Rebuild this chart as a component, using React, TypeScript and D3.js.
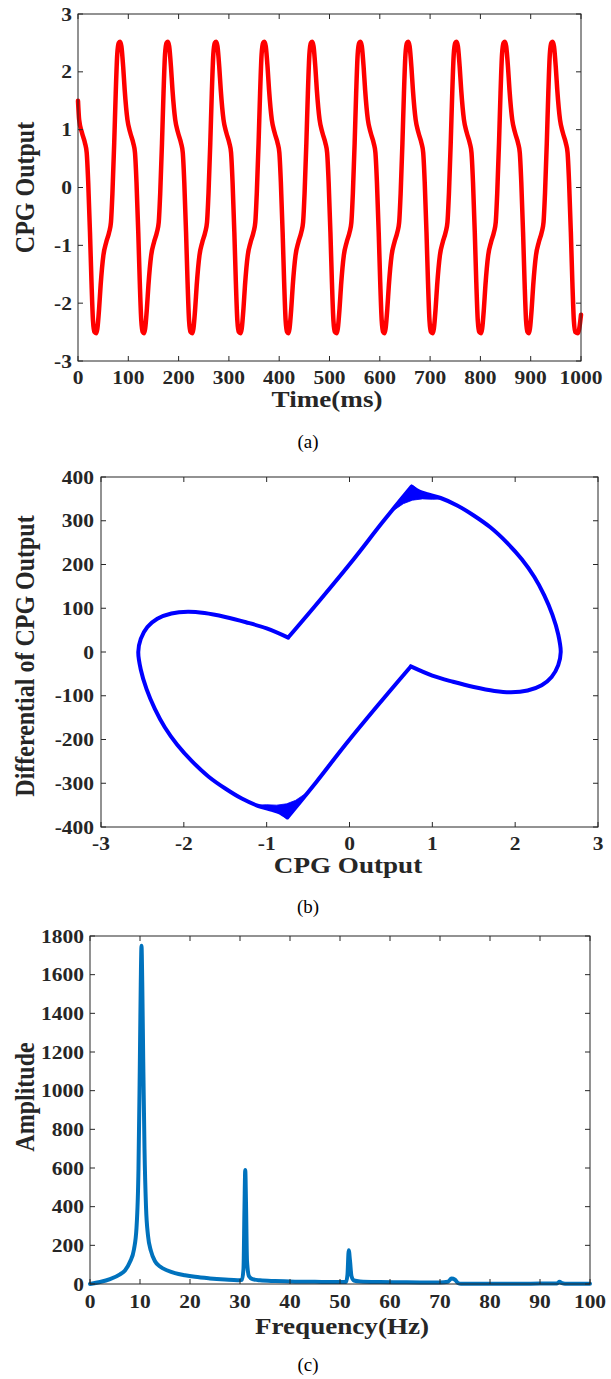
import React from 'react';
import * as d3 from 'd3';

// ---------- Panel (a): CPG output vs time ----------
const timeTicks = [0, 100, 200, 300, 400, 500, 600, 700, 800, 900, 1000];
const cpgTicks = [-3, -2, -1, 0, 1, 2, 3];
// times (ms) of the troughs (first one is before t=0)
const troughTimes = [-60, 36, 131, 227, 323, 418, 514, 609, 705, 801, 896, 994];
// one cycle: [ms after trough, output]
const cycleShape: [number, number][] = [
  [0, -2.52], [2.5, -2.44], [6, -2.09], [9, -1.69], [14.5, -1.17], [20, -0.95],
  [26, -0.77], [29.5, -0.6], [32.5, -0.09], [36, 0.77], [39, 1.63], [42, 2.3],
  [45, 2.5], [47.8, 2.52], [50.3, 2.44], [53.8, 2.09], [56.8, 1.69], [62.3, 1.17],
  [67.8, 0.95], [73.8, 0.77], [77.3, 0.6], [80.3, 0.09], [83.8, -0.77],
  [86.8, -1.63], [89.8, -2.3], [92.8, -2.5],
];
const cpgStart: [number, number] = [0, 1.5];
const cpgEnd: [number, number] = [1000, -2.2];

// ---------- Panel (b): phase portrait ----------
const phaseXTicks = [-3, -2, -1, 0, 1, 2, 3];
const phaseYTicks = [-400, -300, -200, -100, 0, 100, 200, 300, 400];
// right lobe: top cusp -> lower kink
const lobeRight: [number, number][] = [
  [0.75, 378], [0.85, 366], [0.95, 360], [1.1, 352], [1.3, 335], [1.5, 312],
  [1.7, 285], [1.9, 250], [2.08, 212], [2.23, 172], [2.35, 130], [2.45, 85],
  [2.52, 40], [2.55, 0], [2.52, -30], [2.44, -57], [2.32, -76], [2.15, -88],
  [1.95, -92], [1.75, -89], [1.5, -80], [1.25, -68], [1.0, -54], [0.74, -33],
];
// lower diagonal: lower kink -> bottom cusp
const diagLower: [number, number][] = [
  [0.74, -33], [0.35, -120], [-0.05, -212], [-0.4, -297], [-0.75, -378],
];
// left lobe: bottom cusp -> upper kink
const lobeLeft: [number, number][] = [
  [-0.75, -378], [-0.85, -366], [-0.95, -360], [-1.1, -352], [-1.3, -335], [-1.5, -312],
  [-1.7, -285], [-1.9, -250], [-2.08, -212], [-2.23, -172], [-2.35, -130], [-2.45, -85],
  [-2.52, -40], [-2.55, 0], [-2.52, 30], [-2.44, 57], [-2.32, 76], [-2.15, 88],
  [-1.95, 92], [-1.75, 89], [-1.5, 80], [-1.25, 68], [-1.0, 54], [-0.74, 33],
];
// upper diagonal: upper kink -> top cusp
const diagUpper: [number, number][] = [
  [-0.74, 33], [-0.35, 120], [0.05, 212], [0.4, 297], [0.75, 378],
];
// dense bundle of trajectories at the two cusps
const cuspTop: [number, number][] = [
  [0.76, 381], [0.85, 367], [0.95, 360], [1.05, 355], [1.14, 350],
  [1.0, 349], [0.88, 350], [0.76, 347], [0.65, 339], [0.55, 326], [0.49, 318],
  [0.62, 348],
];
const cuspBottom: [number, number][] = [
  [-0.76, -381], [-0.85, -367], [-0.95, -360], [-1.05, -355], [-1.14, -350],
  [-1.0, -349], [-0.88, -350], [-0.76, -347], [-0.65, -339], [-0.55, -326], [-0.49, -318],
  [-0.62, -348],
];

// ---------- Panel (c): spectrum ----------
const freqTicks = [0, 10, 20, 30, 40, 50, 60, 70, 80, 90, 100];
const ampTicks = [0, 200, 400, 600, 800, 1000, 1200, 1400, 1600, 1800];
const freqHz = [
  0, 2, 4, 6, 7, 8, 8.8, 9.3, 9.7, 9.95, 10.15, 10.3, 10.45, 10.65, 10.9, 11.2, 11.6,
  12.2, 13, 14, 15.5, 17, 19, 21, 24, 27, 29.5, 30.4, 30.7, 30.9, 31.05, 31.2, 31.4,
  31.8, 32.5, 34, 37, 41, 45, 49, 51.2, 51.5, 51.75, 52.0, 52.3, 52.8, 54, 58, 62,
  66, 70, 71.6, 72.3, 73, 73.6, 74.2, 78, 85, 90, 93.4, 93.9, 94.4, 95, 100,
];
const amplitude = [
  0, 10, 25, 50, 70, 115, 180, 290, 600, 1100, 1550, 1750, 1560, 1150, 700, 400, 250,
  170, 118, 90, 70, 56, 45, 37, 29, 23, 19, 22, 80, 400, 590, 420, 120,
  40, 25, 19, 15, 12, 11, 10, 10, 50, 175, 120, 40, 18, 13, 10, 9,
  8, 8, 12, 28, 22, 5, 1, 1, 1, 2, 3, 12, 4, 1, 1,
];

const FONT = "'Liberation Serif', 'Times New Roman', serif";
const AXIS_COLOR = '#262626';
const STRETCH = 1.13; // the reference glyphs are a little wider than tall

type Frame = { left: number; right: number; top: number; bottom: number };

function SText({
  x, y, text, size, anchor, bold, rotate, dy, stretch,
}: {
  x: number; y: number; text: string; size: number; anchor: string;
  bold?: boolean; rotate?: boolean; dy?: string; stretch?: number;
}) {
  const s = stretch ?? STRETCH;
  const tr = `translate(${x} ${y}) scale(${s} 1)${rotate ? ' rotate(-90)' : ''}`;
  return (
    <text transform={tr} dy={dy} textAnchor={anchor} fontFamily={FONT}
      fontWeight={bold ? 'bold' : 'normal'} fontSize={size} fill={bold ? AXIS_COLOR : '#000'}>
      {text}
    </text>
  );
}

function Box({
  frame, x, y, xTicks, yTicks, yLabelEnd, xLabelBase,
}: {
  frame: Frame;
  x: d3.ScaleLinear<number, number>;
  y: d3.ScaleLinear<number, number>;
  xTicks: number[];
  yTicks: number[];
  yLabelEnd: number;
  xLabelBase: number;
}) {
  const tl = 5;
  return (
    <g>
      <rect x={frame.left} y={frame.top} width={frame.right - frame.left}
        height={frame.bottom - frame.top} fill="none" stroke={AXIS_COLOR} strokeWidth={1} />
      {xTicks.map((t) => (
        <g key={'x' + t}>
          <line x1={x(t)} x2={x(t)} y1={frame.bottom} y2={frame.bottom - tl} stroke={AXIS_COLOR} />
          <line x1={x(t)} x2={x(t)} y1={frame.top} y2={frame.top + tl} stroke={AXIS_COLOR} />
          <SText x={x(t)} y={xLabelBase} text={String(t)} size={19} anchor="middle" bold />
        </g>
      ))}
      {yTicks.map((t) => (
        <g key={'y' + t}>
          <line x1={frame.left} x2={frame.left + tl} y1={y(t)} y2={y(t)} stroke={AXIS_COLOR} />
          <line x1={frame.right} x2={frame.right - tl} y1={y(t)} y2={y(t)} stroke={AXIS_COLOR} />
          <SText x={yLabelEnd} y={y(t)} dy="0.35em" text={String(t)} size={19} anchor="end" bold />
        </g>
      ))}
    </g>
  );
}

export default function App() {
  // Panel (a)
  const fa: Frame = { left: 78, right: 581, top: 14, bottom: 361 };
  const xa = d3.scaleLinear().domain([0, 1000]).range([fa.left, fa.right]);
  const ya = d3.scaleLinear().domain([-3, 3]).range([fa.bottom, fa.top]);
  const series: [number, number][] = [cpgStart];
  troughTimes.forEach((T) => {
    cycleShape.forEach(([dt, v]) => {
      const t = T + dt;
      if (t > 1 && t < 997) series.push([t, v]);
    });
  });
  series.push(cpgEnd);
  series.sort((p, q) => p[0] - q[0]);
  const lineA = d3.line<[number, number]>().x((d) => xa(d[0])).y((d) => ya(d[1]))
    .curve(d3.curveMonotoneX);

  // Panel (b)
  const fb: Frame = { left: 101, right: 598, top: 477, bottom: 827 };
  const xb = d3.scaleLinear().domain([-3, 3]).range([fb.left, fb.right]);
  const yb = d3.scaleLinear().domain([-400, 400]).range([fb.bottom, fb.top]);
  const segB = d3.line<[number, number]>().x((d) => xb(d[0])).y((d) => yb(d[1]))
    .curve(d3.curveCatmullRom.alpha(0.5));
  const fanB = d3.line<[number, number]>().x((d) => xb(d[0])).y((d) => yb(d[1]))
    .curve(d3.curveLinearClosed);
  const loopD = [lobeRight, diagLower, lobeLeft, diagUpper].map((s) => segB(s) || '').join(' ');

  // Panel (c)
  const fc: Frame = { left: 90, right: 590, top: 936, bottom: 1284 };
  const xc = d3.scaleLinear().domain([0, 100]).range([fc.left, fc.right]);
  const yc = d3.scaleLinear().domain([0, 1800]).range([fc.bottom, fc.top]);
  const specPts: [number, number][] = freqHz.map((f, i) => [f, amplitude[i]]);
  const lineC = d3.line<[number, number]>().x((d) => xc(d[0])).y((d) => yc(d[1]))
    .curve(d3.curveMonotoneX);

  return (
    <svg width={611} height={1379} style={{ position: 'absolute', left: 0, top: 0, background: '#fff' }}>
      <rect x={0} y={0} width={611} height={1379} fill="#fff" />

      {/* (a) */}
      <path d={lineA(series) || ''} fill="none" stroke="#ff0000" strokeWidth={4.5}
        strokeLinejoin="round" strokeLinecap="round" />
      <Box frame={fa} x={xa} y={ya} xTicks={timeTicks} yTicks={cpgTicks} yLabelEnd={72} xLabelBase={384} />
      <SText x={327} y={407} text="Time(ms)" size={24} anchor="middle" bold />
      <SText x={34} y={(fa.top + fa.bottom) / 2} text="CPG Output" size={24} anchor="middle" bold rotate />
      <SText x={308} y={448} text="(a)" size={18} anchor="middle" stretch={1.05} />

      {/* (b) */}
      <path d={fanB(cuspTop) || ''} fill="#0000ff" stroke="#0000ff" strokeWidth={0.8} strokeLinejoin="round" />
      <path d={fanB(cuspBottom) || ''} fill="#0000ff" stroke="#0000ff" strokeWidth={0.8} strokeLinejoin="round" />
      <path d={loopD} fill="none" stroke="#0000ff" strokeWidth={4}
        strokeLinejoin="miter" strokeLinecap="round" />
      <Box frame={fb} x={xb} y={yb} xTicks={phaseXTicks} yTicks={phaseYTicks} yLabelEnd={94} xLabelBase={850} />
      <SText x={348} y={873} text="CPG Output" size={24} anchor="middle" bold />
      <SText x={34} y={656} text="Differential of CPG Output" size={24} anchor="middle" bold rotate />
      <SText x={308} y={913} text="(b)" size={18} anchor="middle" stretch={1.05} />

      {/* (c) */}
      <path d={lineC(specPts) || ''} fill="none" stroke="#0072BD" strokeWidth={4}
        strokeLinejoin="round" strokeLinecap="round" />
      <Box frame={fc} x={xc} y={yc} xTicks={freqTicks} yTicks={ampTicks} yLabelEnd={84} xLabelBase={1308} />
      <SText x={342} y={1334} text="Frequency(Hz)" size={24} anchor="middle" bold />
      <SText x={34} y={1097} text="Amplitude" size={24} anchor="middle" bold rotate />
      <SText x={308} y={1371} text="(c)" size={18} anchor="middle" stretch={1.05} />
    </svg>
  );
}
